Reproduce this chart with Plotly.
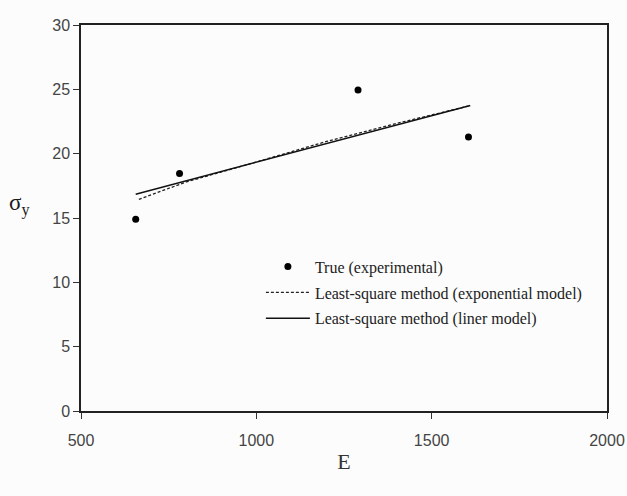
import plotly.graph_objects as go

# Experimental yield stress vs. elastic modulus
E_exp = [656, 781, 1290, 1605]
sigma_exp = [14.9, 18.45, 24.95, 21.3]

# Least-square fit, exponential model
E_expo = [665, 800, 1000, 1200, 1400, 1605]
sigma_expo = [16.45, 17.8, 19.35, 20.95, 22.35, 23.7]

# Least-square fit, linear model
E_lin = [656, 1610]
sigma_lin = [16.85, 23.75]

x_ticks = [500, 1000, 1500, 2000]
y_ticks = [0, 5, 10, 15, 20, 25, 30]

serif = "Liberation Serif, Times New Roman, serif"
sans = "Liberation Sans Narrow, Arial Narrow, Liberation Sans, sans-serif"

fig = go.Figure()
fig.add_trace(go.Scatter(
    x=E_exp, y=sigma_exp, mode="markers", name="True (experimental)",
    marker=dict(color="black", size=7), legendgroup="a"))
fig.add_trace(go.Scatter(
    x=E_expo, y=sigma_expo, mode="lines",
    name="Least-square method (exponential model)",
    line=dict(color="#222", width=1.3, dash="3px,2px"), legendgroup="b"))
fig.add_trace(go.Scatter(
    x=E_lin, y=sigma_lin, mode="lines",
    name="Least-square method (liner model)",
    line=dict(color="#111", width=1.5), legendgroup="c"))

axis_common = dict(
    showline=True, linecolor="#222", linewidth=1.5, mirror=True,
    showgrid=False, zeroline=False, ticks="outside", ticklen=6,
    tickcolor="#333", tickwidth=1, automargin=False,
    tickfont=dict(family=sans, size=16, color="#444"),
)

fig.update_xaxes(range=[500, 2000], tickvals=x_ticks, ticklabelstandoff=8,
                 title=dict(text="E", font=dict(family=serif, size=22, color="#333"),
                            standoff=6),
                 **axis_common)
fig.update_yaxes(range=[0, 30], tickvals=y_ticks, **axis_common)

fig.add_annotation(text="σ<sub>y</sub>", xref="paper", yref="paper",
                   x=-0.118, y=0.535, showarrow=False, xanchor="center",
                   font=dict(family=serif, size=23, color="#1a1a1a"))

fig.update_layout(
    width=627, height=496,
    margin=dict(l=81, r=20, t=25, b=85),
    paper_bgcolor="#fcfcfc", plot_bgcolor="#fcfcfc",
    showlegend=True,
    legend=dict(x=0.342, y=0.418, xanchor="left", yanchor="top",
                bgcolor="rgba(0,0,0,0)", tracegroupgap=2, itemwidth=44,
                font=dict(family=serif, size=16, color="#222")),
)

fig.write_html("out.html")
